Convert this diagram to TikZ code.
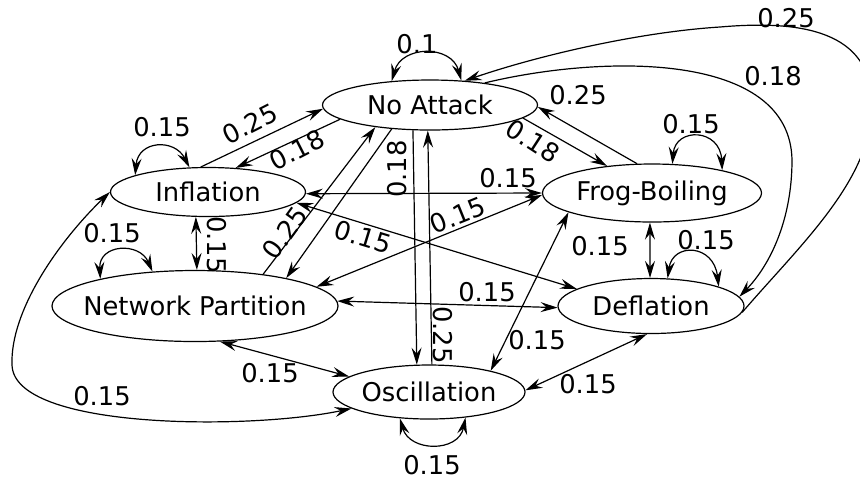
\documentclass[tikz,border=0pt]{standalone}
\usepackage{fontspec}
\setmainfont{DejaVu Sans}
\usetikzlibrary{arrows.meta,shapes.geometric}

\begin{document}
\begin{tikzpicture}[x=0.5pt,y=-0.5pt,line width=0.6pt,
  >={Stealth[length=8.5pt,width=5pt,inset=3pt]},
  every node/.style={font=\fontsize{12.9}{15}\selectfont},
  state/.style={ellipse,draw,inner sep=0pt,line width=0.6pt},
  lbl/.style={inner sep=0pt}]
   \useasboundingbox (0,0) rectangle (860,479);

   \node[state,minimum width=107.5pt,minimum height=25pt] (na)   at (430,105) {\makebox[0pt]{No Attack}};
   \node[state,minimum width=97.5pt,minimum height=24.5pt] (infl) at (208,192) {\makebox[0pt]{Inflation}};
   \node[state,minimum width=109.5pt,minimum height=29pt] (fb)   at (652,193) {\makebox[0pt]{Frog-Boiling}};
   \node[state,minimum width=143pt,minimum height=35.5pt] (np)   at (195,306) {\makebox[0pt]{Network Partition}};
   \node[state,minimum width=93pt,minimum height=27.5pt] (defl) at (651,306) {\makebox[0pt]{Deflation}};
   \node[state,minimum width=96pt,minimum height=27pt] (osc)  at (429,392) {\makebox[0pt]{Oscillation}};

   \draw[<->] (na.148) .. controls +(10,-36) and +(-10,-36) .. (na.38);
   \draw[<->] (infl.167) .. controls +(3,-35) and +(-15,-29) .. (infl.127);
   \draw[<->] (np.164) .. controls +(-2,-35) and +(-13,-30) .. (np.141);
   \draw[<->] (fb.55) .. controls +(3,-37) and +(-2,-42) .. (fb.18);
   \draw[<->] (defl.59) .. controls +(5,-36) and +(-5,-43) .. (defl.16);
   \draw[<->] (osc.222) .. controls +(10,34) and +(-7,35) .. (osc.325);

   \draw[->] (infl.106) -- (na.182);
   \draw[->] (na.189) -- (infl.41);
   \draw[<->] (infl.244) -- (np.87);
   \draw[->] (np.25) -- (na.202);
   \draw[->] (na.212) -- (np.17);
   \draw[->] (na.236) -- (osc.114);
   \draw[->] (osc.84) -- (na.265);
   \draw[->] (na.352) -- (fb.149);
   \draw[->] (fb.117) -- (na.359);
   \draw[<->] (infl.359) -- (fb.180);
   \draw[<->] (np.9) -- (fb.181);
   \draw[<->] (infl.353) -- (defl.167);
   \draw[<->] (fb.266) -- (defl.92);
   \draw[<->] (np.2) -- (defl.181);
   \draw[<->] (osc.19) -- (fb.193);
   \draw[<->] (np.305) -- (osc.169);
   \draw[<->] (osc.1) -- (defl.262);

   \draw[<->] (infl.180) .. controls (60,240) and (10,310) .. (12,365)
      .. controls (14,430) and (250,430) .. (osc.192);
   \draw[->] (na.22) .. controls (600,55) and (790,50) .. (792,160)
      .. controls (792,220) and (770,265) .. (defl.6);
   \draw[->] (defl.356) .. controls (800,245) and (872,180) .. (872,105)
      .. controls (872,30) and (800,20) .. (720,27)
      .. controls (640,32) and (540,55) .. (na.35);

   \node[lbl] (lna)    at (417,44)  {0.1};
   \node[lbl] (linfl)  at (162,127) {0.15};
   \node[lbl] (lnp)    at (112,233) {0.15};
   \node[lbl] (lfb)    at (691,124) {0.15};
   \node[lbl] (ldefl)  at (706,240) {0.15};
   \node[lbl] (losc)   at (432,465) {0.15};

   \node[lbl,rotate=27]  (linna)  at (250,124) {0.25};
   \node[lbl,rotate=27]  (lnainf) at (297,150) {0.18};
   \node[lbl,rotate=-90] (linnp)  at (217,245) {0.15};
   \node[lbl,rotate=54]  (lnpna)  at (285,233) {0.25};
   \node[lbl,rotate=90]  (lnaosc) at (397,169) {0.18};
   \node[lbl,rotate=-90] (loscna) at (443,335) {0.25};
   \node[lbl,rotate=-33] (lnafb)  at (533,141) {0.18};
   \node[lbl]            (lfbna)  at (578,95)  {0.25};
   \node[lbl]            (linfb)  at (508,178) {0.15};
   \node[lbl,rotate=22]  (lnpfb)  at (458,215) {0.15};
   \node[lbl,rotate=-17] (linde)  at (363,237) {0.15};
   \node[lbl]            (lfbde)  at (600,246) {0.15};
   \node[lbl]            (lnpde)  at (487,292) {0.15};
   \node[lbl]            (loscfb) at (537,340) {0.15};
   \node[lbl]            (lnposc) at (270,373) {0.15};
   \node[lbl]            (loscde) at (588,384) {0.15};
   \node[lbl]            (linosc) at (102,396) {0.15};
   \node[lbl]            (ldena)  at (786,18)  {0.25};
   \node[lbl]            (lnade)  at (773,76)  {0.18};
\end{tikzpicture}
\end{document}
